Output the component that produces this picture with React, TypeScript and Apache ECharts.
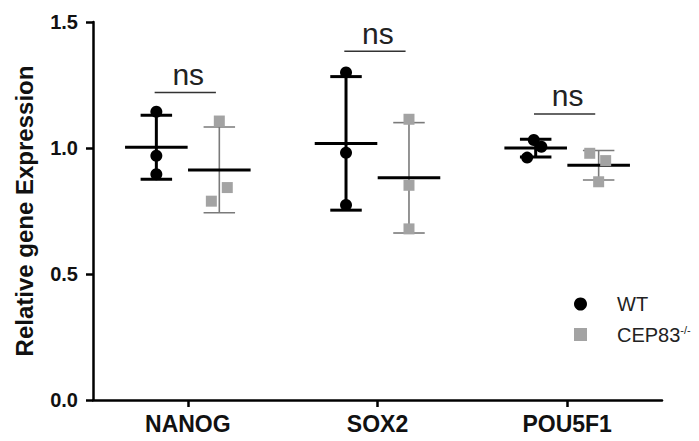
import React, { useEffect, useRef } from "react";
import * as echarts from "echarts";

const categories = ["NANOG", "SOX2", "POU5F1"];
const groups = ["WT", "CEP83-/-"];
const wtValues = [
  [1.144, 0.969, 0.896],
  [1.3, 0.981, 0.774],
  [1.032, 1.005, 0.962],
];
const koValues = [
  [1.107, 0.843, 0.789],
  [1.114, 0.852, 0.679],
  [0.979, 0.95, 0.866],
];
const sigLevels = [1.22, 1.384, 1.135];
const sigLabels = ["ns", "ns", "ns"];
const yTicks = [0, 0.5, 1.0, 1.5];

// horizontal jitter (band units) for individual points, style only
const wtJitter = [
  [0, 0, 0],
  [0, 0, 0],
  [-0.01, 0.03, -0.045],
];
const koJitter = [
  [0, 0.042, -0.042],
  [0, 0, 0],
  [-0.047, 0.037, 0],
];

const FONT = "'Liberation Sans', Arial, Helvetica, sans-serif";
const GROUP_OFFSET = 0.166;
const KO_COLOR = "#a3a3a3";

function mean(a: number[]) {
  return a.reduce((s, v) => s + v, 0) / a.length;
}
function sd(a: number[]) {
  const m = mean(a);
  return Math.sqrt(a.reduce((s, v) => s + (v - m) * (v - m), 0) / (a.length - 1));
}

export default function App() {
  const ref = useRef<HTMLDivElement>(null);
  useEffect(() => {
    if (!ref.current) return;
    const chart = echarts.init(ref.current, null, { renderer: "svg" });

    const wtPoints: number[][] = [];
    const koPoints: number[][] = [];
    categories.forEach((_, i) => {
      wtValues[i].forEach((v, j) => wtPoints.push([i - GROUP_OFFSET + wtJitter[i][j], v]));
      koValues[i].forEach((v, j) => koPoints.push([i + GROUP_OFFSET + koJitter[i][j], v]));
    });
    const stats: number[][] = [];
    categories.forEach((_, i) => {
      stats.push([i - GROUP_OFFSET, mean(wtValues[i]), sd(wtValues[i]), 0]);
      stats.push([i + GROUP_OFFSET, mean(koValues[i]), sd(koValues[i]), 1]);
    });
    const sigData = categories.map((_, i) => [i, sigLevels[i]]);

    const option: any = {
      animation: false,
      backgroundColor: "#fff",
      grid: { left: 93, right: 37, top: 22, bottom: 41, containLabel: false },
      xAxis: [
        {
          type: "category",
          data: categories,
          boundaryGap: true,
          axisLine: { onZero: false, lineStyle: { color: "#000", width: 2.5 } },
          axisTick: { show: true, alignWithLabel: true, length: 7, lineStyle: { width: 2.5, color: "#000" } },
          axisLabel: { color: "#111", fontSize: 23, fontWeight: "bold", fontFamily: FONT, margin: 12 },
          splitLine: { show: false },
        },
        {
          type: "value",
          min: -0.5,
          max: 2.5,
          show: false,
          axisLine: { onZero: false },
          splitLine: { show: false },
        },
      ],
      yAxis: {
        type: "value",
        min: 0,
        max: 1.5,
        interval: 0.5,
        name: "Relative gene Expression",
        nameLocation: "middle",
        nameGap: 57,
        nameTextStyle: { color: "#111", fontSize: 24, fontWeight: "bold", fontFamily: FONT },
        axisLine: { show: true, onZero: false, lineStyle: { color: "#000", width: 2.5 } },
        axisTick: { show: true, length: 7, lineStyle: { width: 2.5, color: "#000" } },
        axisLabel: {
          color: "#111",
          fontSize: 20,
          fontWeight: "bold",
          fontFamily: FONT,
          margin: 15,
          formatter: (v: number) => (yTicks.includes(v) ? v.toFixed(1) : ""),
        },
        splitLine: { show: false },
      },
      legend: {
        orient: "vertical",
        left: 569,
        top: 289,
        itemWidth: 13,
        itemHeight: 13,
        itemGap: 10,
        data: [
          { name: groups[0], icon: "circle", itemStyle: { color: "#000", opacity: 1 } },
          { name: groups[1], icon: "rect", itemStyle: { color: KO_COLOR, opacity: 1 } },
        ],
        formatter: (name: string) => {
          if (name.indexOf("-/-") >= 0) return "{b|" + name.replace("-/-", "") + "}{sup|-/-}";
          return "{b|" + name + "}";
        },
        textStyle: {
          color: "#222",
          fontFamily: FONT,
          padding: [0, 0, 0, 25],
          rich: {
            b: { fontSize: 20, lineHeight: 21, fontFamily: FONT, color: "#222" },
            sup: { fontSize: 11, lineHeight: 11, verticalAlign: "top", fontFamily: FONT, color: "#222" },
          },
        },
      },
      series: [
        {
          type: "custom",
          name: "stats",
          xAxisIndex: 1,
          z: 2,
          data: stats,
          renderItem: (params: any, api: any) => {
            const x = api.value(0);
            const m = api.value(1);
            const s = api.value(2);
            const g = api.value(3);
            const pc = api.coord([x, m]);
            const ph = api.coord([x, m + s]);
            const pl = api.coord([x, m - s]);
            const unit = api.size([1, 0])[0];
            const mh = unit * 0.165;
            const ch = unit * 0.083;
            const barColor = g === 0 ? "#000" : "#7a7a7a";
            const barW = g === 0 ? 3 : 1.6;
            return {
              type: "group",
              children: [
                { type: "line", shape: { x1: ph[0], y1: ph[1], x2: pl[0], y2: pl[1] }, style: { stroke: barColor, lineWidth: barW } },
                { type: "line", shape: { x1: ph[0] - ch, y1: ph[1], x2: ph[0] + ch, y2: ph[1] }, style: { stroke: barColor, lineWidth: barW } },
                { type: "line", shape: { x1: pl[0] - ch, y1: pl[1], x2: pl[0] + ch, y2: pl[1] }, style: { stroke: barColor, lineWidth: barW } },
                { type: "line", shape: { x1: pc[0] - mh, y1: pc[1], x2: pc[0] + mh, y2: pc[1] }, style: { stroke: "#000", lineWidth: 3 } },
              ],
            };
          },
        },
        {
          type: "scatter",
          name: groups[0],
          xAxisIndex: 1,
          z: 3,
          symbol: "circle",
          symbolSize: 12,
          itemStyle: { color: "#000", opacity: 1 },
          data: wtPoints,
        },
        {
          type: "scatter",
          name: groups[1],
          xAxisIndex: 1,
          z: 3,
          symbol: "rect",
          symbolSize: 11,
          itemStyle: { color: KO_COLOR, opacity: 1 },
          data: koPoints,
        },
        {
          type: "custom",
          name: "sig",
          xAxisIndex: 1,
          z: 4,
          data: sigData,
          renderItem: (params: any, api: any) => {
            const i = api.value(0);
            const lvl = api.value(1);
            const a = api.coord([i - 0.175, lvl]);
            const b = api.coord([i + 0.148, lvl]);
            const mid = (a[0] + b[0]) / 2 + 3;
            return {
              type: "group",
              children: [
                { type: "line", shape: { x1: a[0], y1: a[1], x2: b[0], y2: b[1] }, style: { stroke: "#333", lineWidth: 1.5 } },
                {
                  type: "text",
                  style: {
                    text: sigLabels[params.dataIndex],
                    x: mid,
                    y: a[1] - 3,
                    align: "center",
                    verticalAlign: "bottom",
                    fontSize: 30,
                    fontFamily: FONT,
                    fill: "#222",
                  },
                },
              ],
            };
          },
        },
      ],
    };
    chart.setOption(option);
    return () => chart.dispose();
  }, []);
  return <div ref={ref} style={{ width: 699, height: 441, position: "absolute", left: 0, top: 0 }} />;
}
